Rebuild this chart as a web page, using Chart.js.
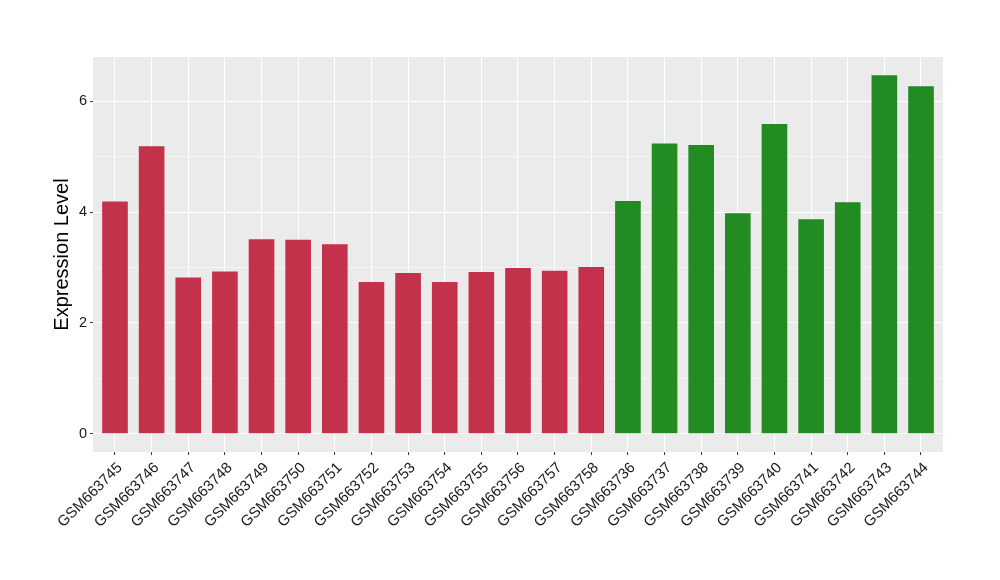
<!DOCTYPE html>
<html>
<head>
<meta charset="utf-8">
<script src="https://cdn.jsdelivr.net/npm/chart.js@4.4.0/dist/chart.umd.min.js"></script>
<style>
  html, body { margin: 0; padding: 0; background: #fff; }
  #wrap { width: 1000px; height: 580px; }
</style>
</head>
<body>
<div id="wrap"><canvas id="chart" width="1000" height="580"></canvas></div>
<script>
// Expression level per sample (two groups)
const samples = ['GSM663745', 'GSM663746', 'GSM663747', 'GSM663748', 'GSM663749', 'GSM663750',
    'GSM663751', 'GSM663752', 'GSM663753', 'GSM663754', 'GSM663755', 'GSM663756', 'GSM663757',
    'GSM663758', 'GSM663736', 'GSM663737', 'GSM663738', 'GSM663739', 'GSM663740', 'GSM663741',
    'GSM663742', 'GSM663743', 'GSM663744'];
const values = [4.19, 5.19, 2.82, 2.93, 3.51, 3.50, 3.42, 2.74, 2.90, 2.74, 2.92, 2.99, 2.94,
    3.01, 4.20, 5.24, 5.21, 3.98, 5.59, 3.87, 4.18, 6.47, 6.27];
const groups = ['A', 'A', 'A', 'A', 'A', 'A', 'A', 'A', 'A', 'A', 'A', 'A', 'A', 'A',
    'B', 'B', 'B', 'B', 'B', 'B', 'B', 'B', 'B'];
const yTicks = [0, 1, 2, 3, 4, 5, 6];
const groupColors = { A: '#C3314A', B: '#228B22' };

const TEXT = '#1a1a1a';
const FONT = "'Liberation Sans', Arial, Helvetica, sans-serif";

// grey panel behind the plot area
const panelBg = {
    id: 'panelBg',
    beforeDraw(chart) {
        const { ctx, chartArea: a } = chart;
        ctx.save();
        ctx.fillStyle = '#EBEBEB';
        ctx.fillRect(a.left, a.top, a.right - a.left, a.bottom - a.top);
        ctx.restore();
    }
};

new Chart(document.getElementById('chart').getContext('2d'), {
    type: 'bar',
    data: {
        datasets: [{
            data: values.map((v, i) => ({ x: i + 1, y: v })),
            backgroundColor: groups.map(g => groupColors[g]),
            borderWidth: 0,
            barPercentage: 0.7,
            categoryPercentage: 1.0,
        }],
    },
    options: {
        responsive: false,
        animation: false,
        layout: { padding: { top: 57, right: 57, left: 50, bottom: 0 } },
        plugins: { legend: { display: false }, tooltip: { enabled: false } },
        scales: {
            x: {
                type: 'linear',
                offset: false,
                min: 0.4,
                max: samples.length + 0.6,
                afterBuildTicks: s => { s.ticks = samples.map((_, i) => ({ value: i + 1 })); },
                afterFit: s => { s.height = 128; },
                ticks: {
                    autoSkip: false, minRotation: 45, maxRotation: 45, padding: 4, labelOffset: 5,
                    color: TEXT, font: { family: FONT, size: 15 },
                    callback: v => samples[v - 1] ?? '',
                },
                grid: { offset: false, color: '#ffffff', lineWidth: 1.1, tickColor: '#333333', tickLength: 3, tickWidth: 1 },
                border: { display: false },
            },
            y: {
                min: -0.33,
                max: 6.8,
                afterBuildTicks: s => { s.ticks = yTicks.map(v => ({ value: v })); },
                afterFit: s => { s.width = 43; },
                ticks: {
                    padding: 3, color: TEXT, font: { family: FONT, size: 14.5 },
                    callback: v => (v % 2 === 0 ? String(v) : ''),
                },
                grid: {
                    color: '#ffffff',
                    lineWidth: c => (c.tick && c.tick.value % 2 !== 0 ? 0.55 : 1.1),
                    tickColor: c => (c.tick && c.tick.value % 2 !== 0 ? 'rgba(0,0,0,0)' : '#333333'),
                    tickLength: 3, tickWidth: 1,
                },
                border: { display: false },
                title: { display: true, text: 'Expression Level', color: '#000', font: { family: FONT, size: 20 },
                    padding: { top: 0, bottom: 0 } },
            },
        },
    },
    plugins: [panelBg],
});
</script>
</body>
</html>
